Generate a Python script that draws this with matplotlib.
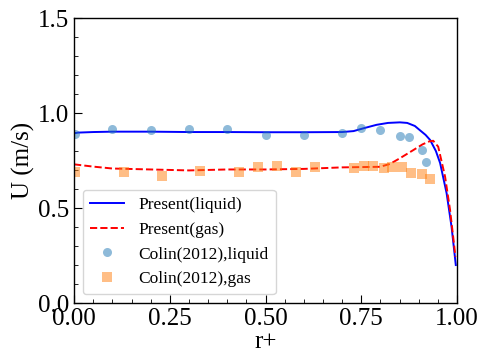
import numpy as np
import matplotlib
matplotlib.use("Agg")
import matplotlib.pyplot as plt
from matplotlib.ticker import MultipleLocator

plt.rcParams['font.family'] = ['Liberation Serif', 'DejaVu Serif']

# simulation curves
r_liq = [0.0, 0.01, 0.05, 0.1, 0.2, 0.3, 0.4, 0.5, 0.6, 0.7, 0.73, 0.76, 0.79, 0.82,
         0.851, 0.87, 0.89, 0.903, 0.918, 0.93, 0.945, 0.956, 0.973, 0.986, 0.997]
u_liq = [0.893, 0.897, 0.900, 0.902, 0.902, 0.900, 0.900, 0.899, 0.899, 0.900, 0.905,
         0.922, 0.938, 0.948, 0.951, 0.948, 0.932, 0.91, 0.885, 0.858, 0.80, 0.737,
         0.578, 0.40, 0.20]

r_gas = [0.0, 0.05, 0.1, 0.2, 0.3, 0.4, 0.5, 0.6, 0.7, 0.799, 0.825, 0.851, 0.886,
         0.91, 0.928, 0.938, 0.951, 0.969, 0.982, 0.992, 0.996]
u_gas = [0.730, 0.718, 0.708, 0.703, 0.698, 0.703, 0.703, 0.706, 0.714, 0.717, 0.732,
         0.762, 0.805, 0.835, 0.851, 0.854, 0.823, 0.665, 0.49, 0.316, 0.244]

# experimental data
r_col_liq = [0.003, 0.10, 0.20, 0.30, 0.40, 0.50, 0.60, 0.70, 0.75, 0.80, 0.85, 0.875, 0.91, 0.92]
u_col_liq = [0.888, 0.918, 0.91, 0.916, 0.916, 0.884, 0.884, 0.896, 0.921, 0.912, 0.877, 0.872, 0.804, 0.742]

r_col_gas = [0.003, 0.13, 0.23, 0.33, 0.43, 0.48, 0.53, 0.58, 0.63, 0.73, 0.757, 0.78, 0.81,
             0.83, 0.856, 0.88, 0.908, 0.93]
u_col_gas = [0.691, 0.689, 0.670, 0.695, 0.689, 0.714, 0.719, 0.691, 0.716, 0.711, 0.723,
             0.719, 0.712, 0.716, 0.714, 0.686, 0.681, 0.653]

fig = plt.figure(figsize=(4.81, 3.54), dpi=100)
ax = fig.add_axes([0.154, 0.144, 0.796, 0.805])

ax.plot(r_liq, u_liq, color='blue', lw=1.4, label='Present(liquid)')
ax.plot(r_gas, u_gas, color='red', lw=1.4, ls='--', label='Present(gas)')
ax.plot(r_col_liq, u_col_liq, 'o', color='tab:blue', alpha=0.5, ms=6.5, mew=0,
        label='Colin(2012),liquid')
ax.plot(r_col_gas, u_col_gas, 's', color='tab:orange', alpha=0.5, ms=6.5, mew=0,
        label='Colin(2012),gas')

ax.set_xlim(0, 1)
ax.set_ylim(0, 1.5)
ax.xaxis.set_major_locator(MultipleLocator(0.25))
ax.xaxis.set_minor_locator(MultipleLocator(0.05))
ax.yaxis.set_major_locator(MultipleLocator(0.5))
ax.yaxis.set_minor_locator(MultipleLocator(0.1))
ax.tick_params(which='both', direction='in', labelsize=18)
ax.tick_params(which='major', length=6)
ax.tick_params(which='minor', length=3)
for s in ax.spines.values():
    s.set_linewidth(1.0)

ax.set_xlabel('r+', fontsize=18, labelpad=1)
ax.set_ylabel('U (m/s)', fontsize=18, labelpad=2)
ax.legend(loc='lower left', fontsize=12.5)

fig.savefig('out.png', dpi=100)
